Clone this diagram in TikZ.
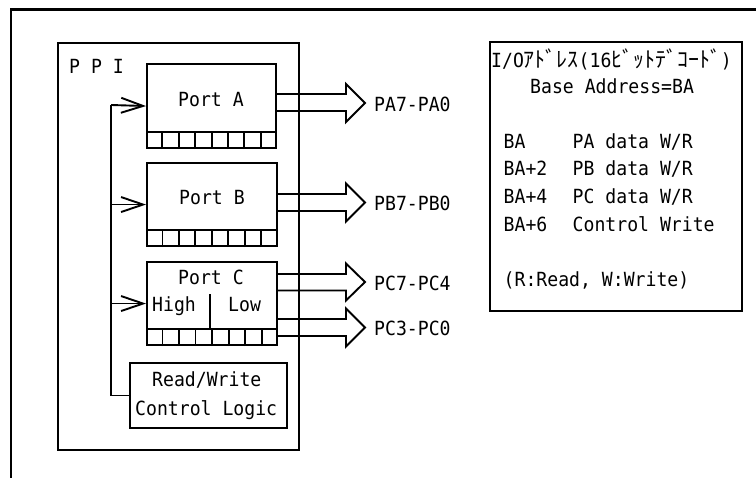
\documentclass[tikz,border=0pt]{standalone}
\usepackage{fontspec}
\newfontfamily\monofont[FakeStretch=0.93]{DejaVu Sans Mono}
\newfontfamily\cjkfont{Noto Sans CJK JP}
\usetikzlibrary{arrows.meta,calc}
\newcommand{\kana}[1]{{\cjkfont\fontsize{21.9}{22}\selectfont #1}}
\begin{document}
\begin{tikzpicture}[x=1pt,y=-1pt,
  txt/.style={font=\monofont\fontsize{19.5}{21}\selectfont, inner sep=0pt, anchor=base west},
  box/.style={draw, line width=2.1pt, anchor=north west, inner sep=0pt},
  conn/.style={line width=1.9pt},
  barb/.style={-{Straight Barb[length=22pt,width=15pt]}},
  bigarrow/.style={line width=1.9pt, line join=miter}]
\useasboundingbox (0,0) rectangle (756,478);
% outer frame
\draw[line width=2.2pt] (756,9.5) -- (11,9.5) -- (11,478);
% PPI box
\node[box, minimum width=241pt, minimum height=407pt] (ppi) at (57,42) {};
\node[txt] (ppilbl) at (69,73.5) {P P I};
% ports
\node[box, minimum width=129pt, minimum height=84pt] (pa) at (146,63) {};
\node[box, minimum width=129.5pt, minimum height=83pt] (pb) at (146,162) {};
\node[box, minimum width=130pt, minimum height=83pt] (pc) at (146,261) {};
\node[box, minimum width=157pt, minimum height=65pt] (rw) at (129,362) {};
% cells
\foreach \p in {pa,pb,pc}{
  \draw[conn] ($(\p.south west)+(0,-17)$) -- ($(\p.south east)+(0,-17)$);
  \foreach \i in {1,...,7}{
    \draw[conn] ($(\p.south west)!\i/8!(\p.south east)$) -- ++(0,-17);
  }
}
\draw[conn] ($(pc.south west)+(64,-17)$) -- ++(0,-35);
% texts in ports
\node[txt] (ta) at (178,107) {Port A};
\node[txt] (tb) at (179,205) {Port B};
\node[txt] (tc) at (178,285) {Port C};
\node[txt] (th) at (152,311.5) {High};
\node[txt] (tl) at (228,311.5) {Low};
\node[txt] (t1) at (152,387) {Read/Write};
\node[txt] (t2) at (135,416) {Control Logic};
% bus
\coordinate (bus) at (111,105);
\draw[conn] (rw.west) -| (bus);
\draw[conn,barb] (bus) -- (pa.west);
\draw[conn,barb] (bus |- pb.west) -- (pb.west);
\draw[conn,barb] (bus |- pc.west) -- (pc.west);
% big arrows
\draw[bigarrow] (pa.east |- 0,94) -- (346,94) -- (346,84) -- (365,103) -- (346,122) -- (346,111) -- (pa.east |- 0,111);
\draw[bigarrow] (pb.east |- 0,194) -- (346,194) -- (346,183.5) -- (365,202.5) -- (346,221.5) -- (346,211) -- (pb.east |- 0,211);
\draw[bigarrow] (pc.east |- 0,274) -- (346,274) -- (346,263.5) -- (365,282) -- (346,300.5) -- (346,290.5) -- (pc.east |- 0,290.5);
\draw[bigarrow] (pc.east |- 0,319) -- (346,319) -- (346,308.5) -- (365,327.5) -- (346,346.5) -- (346,336) -- (pc.east |- 0,336);
\node[txt] (la) at (374,111.5) {PA7-PA0};
\node[txt] (lb) at (374,211) {PB7-PB0};
\node[txt] (lc1) at (374,290.5) {PC7-PC4};
\node[txt] (lc2) at (374,336) {PC3-PC0};
% address box
\node[box, minimum width=252pt, minimum height=269pt] (addr) at (489,41) {};
\node[txt] (title) at (491,67.5) {I/O\kana{ｱﾄﾞﾚｽ}(16\kana{ﾋﾞｯﾄﾃﾞｺｰﾄﾞ})};
\node[txt] (base) at (530,93.5) {Base Address=BA};
\node[txt] (r1a) at (503.5,148.5) {BA};
\node[txt] (r1b) at (572.5,148.5) {PA data W/R};
\node[txt] (r2a) at (503.5,176) {BA+2};
\node[txt] (r2b) at (572.5,176) {PB data W/R};
\node[txt] (r3a) at (503.5,203.5) {BA+4};
\node[txt] (r3b) at (572.5,203.5) {PC data W/R};
\node[txt] (r4a) at (503.5,231.5) {BA+6};
\node[txt] (r4b) at (572.5,231.5) {Control Write};
\node[txt] (note) at (503.5,287) {(R:Read, W:Write)};
\end{tikzpicture}
\end{document}
